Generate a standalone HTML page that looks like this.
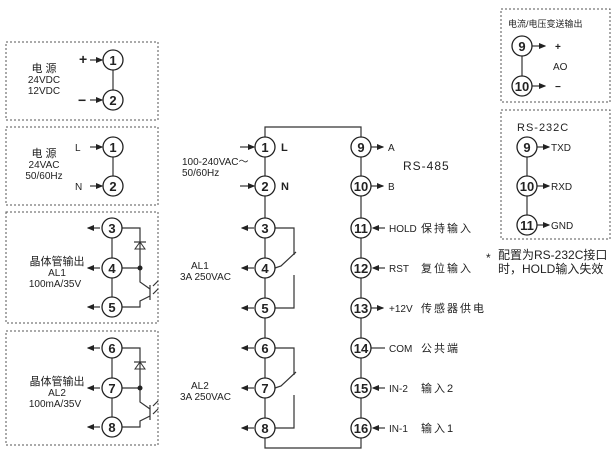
<!DOCTYPE html>
<html><head><meta charset="utf-8"><style>
html,body{margin:0;padding:0;background:#fff;}
svg{display:block;}
text{font-family:"Liberation Sans","Noto Sans CJK SC",sans-serif;fill:#222;}
.c{fill:#fff;stroke:#222;stroke-width:1.3;}
.n{font-weight:bold;font-size:13px;text-anchor:middle;}
.l{stroke:#333;stroke-width:1.2;fill:none;}
.b{fill:none;stroke:#555;stroke-width:1;stroke-dasharray:2,2;}
.s{font-size:10px;}
.m{font-size:11px;}
</style></head><body>
<svg width="616" height="455" viewBox="0 0 616 455" xmlns="http://www.w3.org/2000/svg">
<defs><marker id="a" markerWidth="6" markerHeight="6" refX="5" refY="3" orient="auto"><path d="M0,0.5 L6,3 L0,5.5z" fill="#222"/></marker></defs>
<rect class="b" x="6" y="42" width="152" height="78"/>
<rect class="b" x="6" y="127" width="152" height="78"/>
<rect class="b" x="6" y="212" width="152" height="111"/>
<rect class="b" x="6" y="331" width="152" height="114"/>
<line class="l" x1="113" y1="60" x2="113" y2="100"/>
<text x="79" y="64" font-size="14" font-weight="bold">+</text>
<text x="78" y="105" font-size="14" font-weight="bold">−</text>
<line class="l" x1="90" y1="60" x2="102" y2="60" marker-end="url(#a)"/>
<line class="l" x1="90" y1="100" x2="102" y2="100" marker-end="url(#a)"/>
<circle class="c" cx="113" cy="60" r="10"/><text class="n" x="113" y="65">1</text>
<circle class="c" cx="113" cy="100" r="10"/><text class="n" x="113" y="105">2</text>
<text class="m" x="44" y="72" text-anchor="middle">电 源</text>
<text class="s" x="44" y="83" text-anchor="middle">24VDC</text>
<text class="s" x="44" y="94" text-anchor="middle">12VDC</text>
<line class="l" x1="113" y1="147" x2="113" y2="186"/>
<text class="s" x="75" y="151">L</text><text class="s" x="75" y="190">N</text>
<line class="l" x1="90" y1="147" x2="102" y2="147" marker-end="url(#a)"/>
<line class="l" x1="90" y1="186" x2="102" y2="186" marker-end="url(#a)"/>
<circle class="c" cx="113" cy="147" r="10"/><text class="n" x="113" y="152">1</text>
<circle class="c" cx="113" cy="186" r="10"/><text class="n" x="113" y="191">2</text>
<text class="m" x="44" y="157" text-anchor="middle">电 源</text>
<text class="s" x="44" y="168" text-anchor="middle">24VAC</text>
<text class="s" x="44" y="179" text-anchor="middle">50/60Hz</text>
<g id="t">
<line class="l" x1="112" y1="228" x2="112" y2="307"/>
<line class="l" x1="100" y1="228" x2="88" y2="228" marker-end="url(#a)"/>
<line class="l" x1="100" y1="268" x2="88" y2="268" marker-end="url(#a)"/>
<line class="l" x1="100" y1="307" x2="88" y2="307" marker-end="url(#a)"/>
<polyline class="l" points="122,228 140,228 140,282 150,289"/>
<line class="l" x1="122" y1="268" x2="140" y2="268"/>
<circle cx="140" cy="268" r="2.5" fill="#222"/>
<path d="M135,249 L145,249 L140,242 Z" fill="none" stroke="#333"/>
<line class="l" x1="134" y1="242" x2="146" y2="242"/>
<line class="l" x1="150" y1="285" x2="150" y2="300"/>
<polyline class="l" points="150,296 140,301 140,307 122,307"/>
<line class="l" x1="158" y1="281" x2="153" y2="286"/><line class="l" x1="158" y1="289" x2="153" y2="294"/>
<circle class="c" cx="112" cy="228" r="10"/>
<circle class="c" cx="112" cy="268" r="10"/>
<circle class="c" cx="112" cy="307" r="10"/>
</g>
<use href="#t" transform="translate(0,120)"/>
<text class="n" x="112" y="233">3</text><text class="n" x="112" y="273">4</text><text class="n" x="112" y="312">5</text>
<text class="n" x="112" y="353">6</text><text class="n" x="112" y="393">7</text><text class="n" x="112" y="432">8</text>
<text class="m" x="57" y="265" text-anchor="middle">晶体管输出</text>
<text class="s" x="57" y="276" text-anchor="middle">AL1</text>
<text class="s" x="55" y="287" text-anchor="middle">100mA/35V</text>
<text class="m" x="57" y="385" text-anchor="middle">晶体管输出</text>
<text class="s" x="57" y="396" text-anchor="middle">AL2</text>
<text class="s" x="55" y="407" text-anchor="middle">100mA/35V</text>
<polyline class="l" points="265,428 265,448 361,448 361,428"/>
<polyline class="l" points="265,147 265,127 361,127 361,147"/>
<line class="l" x1="265" y1="147" x2="265" y2="428"/>
<line class="l" x1="361" y1="147" x2="361" y2="428"/>
<line class="l" x1="240" y1="147" x2="254" y2="147" marker-end="url(#a)"/>
<line class="l" x1="240" y1="186" x2="254" y2="186" marker-end="url(#a)"/>
<text x="281" y="151" font-size="11" font-weight="bold">L</text>
<text x="281" y="190" font-size="11" font-weight="bold">N</text>
<text class="s" x="182" y="165">100-240VAC～</text>
<text class="s" x="182" y="176">50/60Hz</text>
<g id="r">
<line class="l" x1="254" y1="228" x2="242" y2="228" marker-end="url(#a)"/>
<line class="l" x1="254" y1="268" x2="242" y2="268" marker-end="url(#a)"/>
<line class="l" x1="254" y1="308" x2="242" y2="308" marker-end="url(#a)"/>
<polyline class="l" points="275,228 294,228 294,255"/>
<polyline class="l" points="275,268 281,266 296,252"/>
<polyline class="l" points="294,275 294,308 275,308"/>
</g>
<use href="#r" transform="translate(0,120)"/>
<text class="s" x="191" y="269">AL1</text><text class="s" x="180" y="280">3A  250VAC</text>
<text class="s" x="191" y="389">AL2</text><text class="s" x="180" y="400">3A  250VAC</text>
<g>
<circle class="c" cx="265" cy="147" r="10"/><text class="n" x="265" y="152">1</text>
<circle class="c" cx="265" cy="186" r="10"/><text class="n" x="265" y="191">2</text>
<circle class="c" cx="265" cy="228" r="10"/><text class="n" x="265" y="233">3</text>
<circle class="c" cx="265" cy="268" r="10"/><text class="n" x="265" y="273">4</text>
<circle class="c" cx="265" cy="308" r="10"/><text class="n" x="265" y="313">5</text>
<circle class="c" cx="265" cy="348" r="10"/><text class="n" x="265" y="353">6</text>
<circle class="c" cx="265" cy="388" r="10"/><text class="n" x="265" y="393">7</text>
<circle class="c" cx="265" cy="428" r="10"/><text class="n" x="265" y="433">8</text>
</g>
<line class="l" x1="371" y1="147" x2="383" y2="147" marker-end="url(#a)"/>
<line class="l" x1="371" y1="186" x2="383" y2="186" marker-end="url(#a)"/>
<line class="l" x1="385" y1="228" x2="373" y2="228" marker-end="url(#a)"/>
<line class="l" x1="385" y1="268" x2="373" y2="268" marker-end="url(#a)"/>
<line class="l" x1="371" y1="308" x2="383" y2="308" marker-end="url(#a)"/>
<line class="l" x1="371" y1="348" x2="385" y2="348"/>
<line class="l" x1="385" y1="388" x2="373" y2="388" marker-end="url(#a)"/>
<line class="l" x1="385" y1="428" x2="373" y2="428" marker-end="url(#a)"/>
<circle class="c" cx="361" cy="147" r="10"/><text class="n" x="361" y="152">9</text>
<circle class="c" cx="361" cy="186" r="10"/><text class="n" x="361" y="191">10</text>
<circle class="c" cx="361" cy="228" r="10"/><text class="n" x="361" y="233">11</text>
<circle class="c" cx="361" cy="268" r="10"/><text class="n" x="361" y="273">12</text>
<circle class="c" cx="361" cy="308" r="10"/><text class="n" x="361" y="313">13</text>
<circle class="c" cx="361" cy="348" r="10"/><text class="n" x="361" y="353">14</text>
<circle class="c" cx="361" cy="388" r="10"/><text class="n" x="361" y="393">15</text>
<circle class="c" cx="361" cy="428" r="10"/><text class="n" x="361" y="433">16</text>
<text class="s" x="388" y="151">A</text><text class="s" x="388" y="190">B</text>
<text x="403" y="170" font-size="12" letter-spacing="1">RS-485</text>
<text class="s" x="389" y="232">HOLD</text><text class="m" x="421" y="232" letter-spacing="2">保持输入</text>
<text class="s" x="389" y="272">RST</text><text class="m" x="421" y="272" letter-spacing="2">复位输入</text>
<text class="s" x="389" y="312">+12V</text><text class="m" x="421" y="312" letter-spacing="2">传感器供电</text>
<text class="s" x="389" y="352">COM</text><text class="m" x="421" y="352" letter-spacing="2">公共端</text>
<text class="s" x="389" y="392">IN-2</text><text class="m" x="421" y="392" letter-spacing="2">输入2</text>
<text class="s" x="389" y="432">IN-1</text><text class="m" x="421" y="432" letter-spacing="2">输入1</text>
<rect class="b" x="501" y="9" width="109" height="93"/>
<text x="508" y="27" font-size="9">电流/电压变送输出</text>
<line class="l" x1="522" y1="46" x2="522" y2="86"/>
<line class="l" x1="532" y1="46" x2="545" y2="46" marker-end="url(#a)"/>
<line class="l" x1="532" y1="86" x2="545" y2="86" marker-end="url(#a)"/>
<circle class="c" cx="522" cy="46" r="10"/><text class="n" x="522" y="51">9</text>
<circle class="c" cx="522" cy="86" r="10"/><text class="n" x="522" y="91">10</text>
<text class="s" x="555" y="50" font-weight="bold">+</text>
<text class="s" x="553" y="70">AO</text>
<text class="s" x="555" y="90" font-weight="bold">−</text>
<rect class="b" x="501" y="110" width="109" height="129"/>
<text x="517" y="131" font-size="11" letter-spacing="1">RS-232C</text>
<line class="l" x1="527" y1="147" x2="527" y2="225"/>
<line class="l" x1="537" y1="147" x2="549" y2="147" marker-end="url(#a)"/>
<line class="l" x1="537" y1="186" x2="549" y2="186" marker-end="url(#a)"/>
<line class="l" x1="537" y1="225" x2="549" y2="225" marker-end="url(#a)"/>
<circle class="c" cx="527" cy="147" r="10"/><text class="n" x="527" y="152">9</text>
<circle class="c" cx="527" cy="186" r="10"/><text class="n" x="527" y="191">10</text>
<circle class="c" cx="527" cy="225" r="10"/><text class="n" x="527" y="230">11</text>
<text class="s" x="551" y="151">TXD</text><text class="s" x="551" y="190">RXD</text><text class="s" x="551" y="229">GND</text>
<text x="486" y="262" font-size="12">*</text>
<text x="498" y="259" font-size="12">配置为RS-232C接口</text>
<text x="498" y="273" font-size="12">时，HOLD输入失效</text>
</svg>
</body></html>
